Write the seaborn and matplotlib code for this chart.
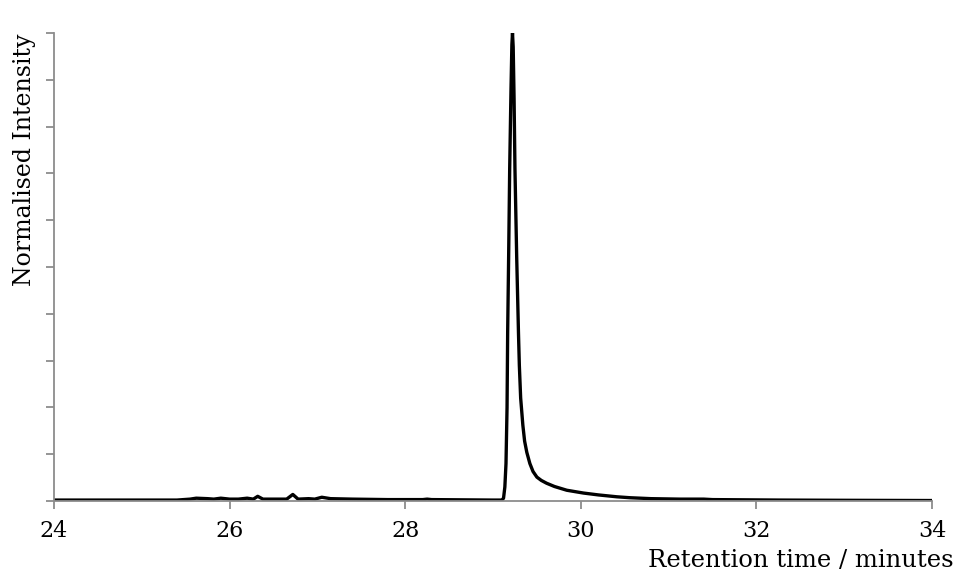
import numpy as np
import pandas as pd
import matplotlib
matplotlib.use("Agg")
import matplotlib.pyplot as plt
import seaborn as sns

# Chromatogram trace: retention time (minutes) and normalised detector response
retention_time = [
    24.00, 25.40, 25.55, 25.62, 25.75, 25.82, 25.90, 26.00, 26.10, 26.20,
    26.27, 26.32, 26.38, 26.50, 26.65, 26.72, 26.78, 26.90, 26.97, 27.05,
    27.15, 27.40, 27.80, 28.20, 28.25, 28.30, 29.00, 29.10, 29.12, 29.135,
    29.148, 29.16, 29.167, 29.18, 29.19, 29.205, 29.215, 29.222, 29.23, 29.24,
    29.25, 29.27, 29.29, 29.30, 29.315, 29.34, 29.36, 29.385, 29.42, 29.456,
    29.50, 29.55, 29.61, 29.70, 29.84, 30.03, 30.20, 30.41, 30.56, 30.80,
    31.13, 31.40, 31.50, 32.27, 33.00, 34.00,
]
intensity = [
    0.002, 0.002, 0.004, 0.006, 0.005, 0.004, 0.006, 0.004, 0.004, 0.006,
    0.004, 0.010, 0.004, 0.004, 0.004, 0.014, 0.004, 0.005, 0.004, 0.008,
    0.005, 0.004, 0.003, 0.003, 0.004, 0.003, 0.002, 0.002, 0.006, 0.030,
    0.080, 0.200, 0.360, 0.550, 0.710, 0.880, 0.975, 1.000, 0.970, 0.860,
    0.710, 0.520, 0.360, 0.290, 0.220, 0.162, 0.128, 0.104, 0.080, 0.063,
    0.051, 0.044, 0.038, 0.031, 0.023, 0.017, 0.013, 0.009, 0.007, 0.005,
    0.004, 0.004, 0.003, 0.002, 0.0015, 0.001,
]

x_ticks = [24, 26, 28, 30, 32, 34]
y_ticks = [0.0, 0.1, 0.2, 0.3, 0.4, 0.5, 0.6, 0.7, 0.8, 0.9, 1.0]

df = pd.DataFrame({"time": retention_time, "signal": intensity})

sns.set_style("ticks")
plt.rcParams["font.family"] = ["DejaVu Serif"]

fig = plt.figure(figsize=(9.55, 5.73), dpi=100)
ax = fig.add_axes([54 / 955, 1 - 501 / 573, 878 / 955, 468 / 573])

sns.lineplot(data=df, x="time", y="signal", ax=ax, color="black",
             linewidth=2.4, estimator=None, sort=False)

ax.set_xlim(24, 34)
ax.set_ylim(0, 1)
ax.set_xticks(x_ticks)
ax.set_xticklabels([str(t) for t in x_ticks])
ax.set_yticks(y_ticks)
ax.set_yticklabels([])

spine_grey = "#8c8c8c"
for side in ("top", "right"):
    ax.spines[side].set_visible(False)
for side in ("left", "bottom"):
    ax.spines[side].set_color(spine_grey)
    ax.spines[side].set_linewidth(1.3)
ax.tick_params(axis="both", direction="out", length=6, width=1.3,
               color=spine_grey, labelsize=16, labelcolor="black", pad=8)

ax.set_xlabel("Retention time / minutes", fontsize=17.5, ha="right",
              va="center", color="black")
ax.xaxis.set_label_coords(1.025, -0.127)
ax.set_ylabel("Normalised Intensity", fontsize=17, loc="top", color="black")
ax.yaxis.set_label_coords(-0.02, 1.0)

fig.savefig("out.png", dpi=100)
